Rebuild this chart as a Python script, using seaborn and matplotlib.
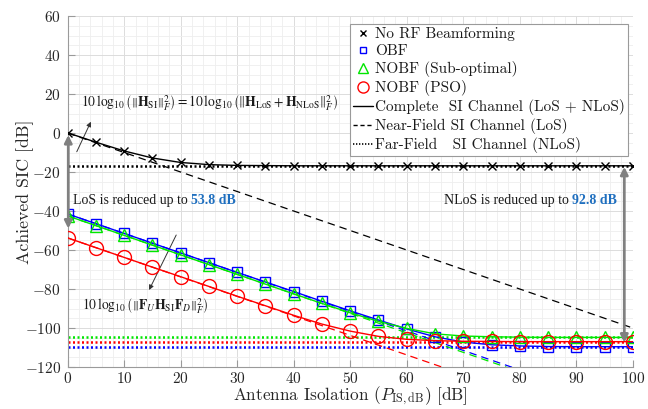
import numpy as np
import pandas as pd
import matplotlib
matplotlib.use("Agg")
from matplotlib import pyplot as plt
from matplotlib.lines import Line2D
from matplotlib.ticker import MultipleLocator
import seaborn as sns

# antenna isolation grid [dB]
isolation = [0, 5, 10, 15, 20, 25, 30, 35, 40, 45, 50,
             55, 60, 65, 70, 75, 80, 85, 90, 95, 100]

# no RF beamforming (black)
norf_complete = [0.1, -4.7, -9.2, -12.8, -15.1, -16.2, -16.6, -16.7, -16.8, -16.8, -16.8,
                 -16.8, -16.8, -16.8, -16.8, -16.8, -16.8, -16.8, -16.8, -16.8, -16.8]
norf_los = [0, -5, -10, -15, -20, -25, -30, -35, -40, -45, -50,
            -55, -60, -65, -70, -75, -80, -85, -90, -95, -100]
norf_nlos = [-16.8] * 21

# OBF (blue)
obf_complete = [-41.5, -46.5, -51.5, -56.5, -61.5, -66.5, -71.5, -76.4, -81.3, -86.3, -91.2,
                -95.9, -100.5, -104.5, -107.2, -108.6, -109.2, -109.5, -109.6, -109.6, -109.6]
obf_los = [-41.5, -46.5, -51.5, -56.5, -61.5, -66.5, -71.5, -76.5, -81.5, -86.5, -91.5,
           -96.5, -101.5, -106.5, -111.5, -116.5, -121.5, -126.5, -131.5, -136.5, -141.5]
obf_nlos = [-109.6] * 21

# NOBF sub-optimal (green)
sub_complete = [-42.5, -47.5, -52.5, -57.5, -62.5, -67.5, -72.5, -77.5, -82.5, -87.4, -92.2,
                -96.6, -100.2, -103.0, -104.1, -104.5, -104.7, -104.8, -104.8, -104.8, -104.8]
sub_los = [-42.5, -47.5, -52.5, -57.5, -62.5, -67.5, -72.5, -77.5, -82.5, -87.5, -92.5,
           -97.5, -102.5, -107.5, -112.5, -117.5, -122.5, -127.5, -132.5, -137.5, -142.5]
sub_nlos = [-104.8] * 21

# NOBF PSO (red)
pso_complete = [-53.8, -58.8, -63.8, -68.8, -73.7, -78.7, -83.7, -88.6, -93.5, -98.0, -101.6,
                -104.3, -105.8, -106.5, -106.8, -106.9, -107.0, -107.0, -107.0, -107.0, -107.0]
pso_los = [-53.8, -58.8, -63.8, -68.8, -73.8, -78.8, -83.8, -88.8, -93.8, -98.8, -103.8,
           -108.8, -113.8, -118.8, -123.8, -128.8, -133.8, -138.8, -143.8, -148.8, -153.8]
pso_nlos = [-107.0] * 21

los_gap = 53.8
nlos_gap = 92.8

series = [
    ("No RF Beamforming", "black", "x", norf_complete, norf_los, norf_nlos),
    ("OBF", "blue", "s", obf_complete, obf_los, obf_nlos),
    ("NOBF (Sub-optimal)", "#00e600", "^", sub_complete, sub_los, sub_nlos),
    ("NOBF (PSO)", "red", "o", pso_complete, pso_los, pso_nlos),
]
marker_size = {"x": 6, "s": 7, "^": 9, "o": 10}

sns.set_style("ticks")
plt.rcParams["font.family"] = ["cmr10", "DejaVu Serif"]
plt.rcParams["mathtext.fontset"] = "cm"
plt.rcParams["axes.unicode_minus"] = False
plt.rcParams["axes.formatter.use_mathtext"] = True

fig = plt.figure(figsize=(6.48, 4.09), dpi=100)
ax = fig.add_axes([0.1045, 0.1027, 0.872, 0.858])

for name, col, mk, comp, los, nlos in series:
    df = pd.DataFrame({"iso": isolation, "comp": comp, "los": los, "nlos": nlos})
    sns.lineplot(data=df, x="iso", y="nlos", color=col, lw=1.8,
                 linestyle=(0, (0.8, 1.0)), ax=ax, zorder=2)
    sns.lineplot(data=df, x="iso", y="los", color=col, lw=0.9,
                 linestyle=(0, (6, 4)), ax=ax, zorder=3)
    sns.lineplot(data=df, x="iso", y="comp", color=col, lw=1.0, marker=mk,
                 markersize=marker_size[mk], markerfacecolor="none",
                 markeredgecolor=col, markeredgewidth=1.0, ax=ax, zorder=4)

ax.set_xlim(0, 100)
ax.set_ylim(-120, 60)
ax.xaxis.set_major_locator(MultipleLocator(10))
ax.xaxis.set_minor_locator(MultipleLocator(2))
ax.yaxis.set_major_locator(MultipleLocator(20))
ax.yaxis.set_minor_locator(MultipleLocator(5))
ax.grid(which="major", color="#dcdcdc", lw=0.7)
ax.grid(which="minor", color="#eeeeee", lw=0.6)
ax.set_axisbelow(True)
ax.spines[["top", "right"]].set_visible(False)
ax.spines[["left", "bottom"]].set_color("#9a9a9a")
ax.tick_params(which="major", direction="in", length=5, color="#9a9a9a",
               labelsize=11, labelcolor="#262626", pad=5)
ax.tick_params(axis="x", which="major", pad=3)
ax.tick_params(which="minor", length=0)
ax.set_xlabel(r"Antenna Isolation ($P_{\mathrm{IS,dB}}$) [dB]", fontsize=12.4,
              color="#262626", labelpad=-1)
ax.set_ylabel("Achieved SIC [dB]", fontsize=12.8, color="#262626", labelpad=-7)

# gray double arrows showing the reductions
arrow_kw = dict(arrowstyle="<|-|>", color="#808080", lw=2.0,
                mutation_scale=11, shrinkA=0, shrinkB=0)
ax.annotate("", xy=(0.1, -49), xytext=(0.1, -1), arrowprops=arrow_kw, zorder=6)
ax.annotate("", xy=(98.5, -107.5), xytext=(98.5, -17.3), arrowprops=arrow_kw, zorder=6)

# formula annotations
thin = dict(arrowstyle="-|>", color="#333333", lw=0.7, mutation_scale=7,
            shrinkA=0, shrinkB=0)
ax.annotate("", xy=(4.1, 5.8), xytext=(1.6, -9.6), arrowprops=thin)
ax.annotate("", xy=(14.4, -80.5), xytext=(19.2, -52.3), arrowprops=thin)
ax.text(2.4, 15.5,
        r"$10\,\log_{10}\left(\left\Vert\mathbf{H}_{\mathrm{SI}}\right\Vert_F^2\right)"
        r"=10\,\log_{10}\left(\left\Vert\mathbf{H}_{\mathrm{LoS}}+\mathbf{H}_{\mathrm{NLoS}}"
        r"\right\Vert_F^2\right)$",
        fontsize=9.8, math_fontfamily="stix", va="center", ha="left", color="#1a1a1a")
ax.text(2.6, -88.7,
        r"$10\,\log_{10}\left(\left\Vert\mathbf{F}_U\mathbf{H}_{\mathrm{SI}}\mathbf{F}_D"
        r"\right\Vert_F^2\right)$",
        fontsize=9.8, math_fontfamily="stix", va="center", ha="left", color="#1a1a1a")

serif = ["Liberation Serif", "DejaVu Serif"]
blue_txt = "#1f6fbf"
fig.canvas.draw()
inv = ax.transData.inverted()

t1 = ax.text(0.9, -36.5, "LoS is reduced up to ", family=serif, fontsize=10,
             va="baseline", ha="left", color="#1a1a1a")
bb = t1.get_window_extent(fig.canvas.get_renderer())
x_end = inv.transform((bb.x1, bb.y0))[0]
ax.text(x_end, -36.5, f"{los_gap} dB", family=serif, fontsize=10, weight="bold",
        va="baseline", ha="left", color=blue_txt)

t3 = ax.text(97.2, -36.5, f"{nlos_gap} dB", family=serif, fontsize=10, weight="bold",
             va="baseline", ha="right", color=blue_txt)
bb = t3.get_window_extent(fig.canvas.get_renderer())
x_start = inv.transform((bb.x0, bb.y0))[0]
ax.text(x_start, -36.5, "NLoS is reduced up to ", family=serif, fontsize=10,
        va="baseline", ha="right", color="#1a1a1a")

handles = [Line2D([], [], ls="none", marker=mk, color=col, markerfacecolor="none",
                  markersize=marker_size[mk] - 2)
           for _, col, mk, *_ in series]
handles += [Line2D([], [], color="black", lw=1.0),
            Line2D([], [], color="black", lw=1.0, ls=(0, (3, 2))),
            Line2D([], [], color="black", lw=1.2, ls=(0, (0.8, 1.0)))]
labels = [s[0] for s in series] + ["Complete  SI Channel (LoS + NLoS)",
                                   "Near-Field SI Channel (LoS)",
                                   "Far-Field   SI Channel (NLoS)"]
leg = ax.legend(handles, labels, loc="upper right", bbox_to_anchor=(1.0, 0.99),
                fontsize=11, frameon=True,
                fancybox=False, framealpha=1, edgecolor="#9a9a9a", borderpad=0.2,
                handlelength=1.3, handletextpad=0.15, labelspacing=0.2,
                borderaxespad=0.3)
leg.get_frame().set_linewidth(0.8)
for t in leg.get_texts():
    t.set_color("#1a1a1a")

fig.savefig("out.png", dpi=100)
